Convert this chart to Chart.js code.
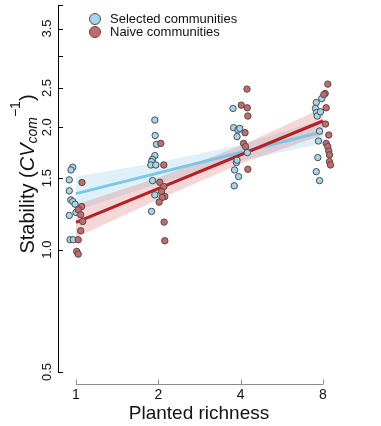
<!DOCTYPE html>
<html>
<head>
<meta charset="utf-8">
<script src="https://cdn.jsdelivr.net/npm/chart.js@4.4.1/dist/chart.umd.min.js"></script>
<style>
  html, body { margin: 0; padding: 0; background: #fff; }
  #wrap { width: 381px; height: 426px; }
</style>
</head>
<body>
<div id="wrap"><canvas id="c" width="381" height="426"></canvas></div>
<script>
// Data.
const richness = [1, 2, 4, 8];
const richnessLabels = ['1', '2', '4', '8'];
const yTicks = [0.5, 1, 1.5, 2, 2.5, 3, 3.5, 4];
const yTickLabels = ['0.5', '1.0', '1.5', '2.0', '2.5', '', '3.5', ''];

const selectedX = [
  0.973, 0.959, 0.945, 0.945, 0.957, 0.973, 0.992, 1.0, 0.945, 0.951, 0.978,
  1.942, 1.948, 1.970, 1.942, 1.905, 1.889, 1.878, 1.958, 1.905, 1.942, 1.889,
  3.75, 3.77, 3.91, 3.97, 3.88, 3.86, 3.80, 3.93, 3.79, 3.88, 4.23,
  7.92, 7.56, 7.51, 7.58, 7.62, 7.83, 7.77, 7.70, 7.66, 7.56, 7.77,
];
const selectedY = [
  1.595, 1.571, 1.485, 1.396, 1.326, 1.314, 1.294, 1.235, 1.214, 1.058, 1.058,
  2.084, 1.910, 1.816, 1.704, 1.668, 1.647, 1.616, 1.616, 1.479, 1.364, 1.242,
  2.226, 1.996, 1.970, 1.988, 1.897, 1.638, 1.571, 1.513, 1.436, 1.660, 1.733,
  2.355, 2.302, 2.226, 2.176, 2.132, 2.184, 1.958, 1.851, 1.685, 1.556, 1.479,
];
const naiveX = [
  1.052, 1.049, 1.019, 1.040, 1.058, 1.040, 1.019, 1.006, 1.019,
  2.042, 2.095, 2.025, 2.095, 2.055, 2.112, 2.065, 2.014, 2.100, 2.112,
  4.22, 4.02, 4.23, 4.25, 4.15, 4.10, 4.17, 4.25,
  8.33, 8.15, 8.06, 8.22, 8.17, 8.40, 8.22, 8.33, 8.40, 8.45, 8.45, 8.52,
];
const naiveY = [
  1.463, 1.277, 1.254, 1.219, 1.173, 1.113, 1.058, 0.990, 0.975,
  1.826, 1.616, 1.465, 1.430, 1.390, 1.351, 1.344, 1.309, 1.169, 1.052,
  2.484, 2.268, 2.234, 2.132, 1.940, 1.826, 1.793, 1.577,
  2.555, 2.423, 2.408, 2.234, 2.038, 1.915, 1.826, 1.793, 1.749, 1.711, 1.647, 1.616,
];

// Fitted lines (ends at richness 1 and 8) and confidence bands (at 1, 2, 4, 8).
const fitX = [1, 8];
const selectedFit = [1.374, 1.951];
const naiveFit = [1.167, 2.073];
const selectedUpper = [1.513, 1.638, 1.813, 2.088];
const selectedLower = [1.249, 1.454, 1.656, 1.824];
const naiveUpper = [1.292, 1.504, 1.802, 2.234];
const naiveLower = [1.072, 1.329, 1.628, 1.918];

const FONT = '"Liberation Sans", Arial, Helvetica, sans-serif';
const BLUE_FILL = '#a3d5ec';
const RED_FILL = '#c96868';
const POINT_EDGE = '#4d4d4d';

const xy = (xs, ys) => xs.map((x, i) => ({x, y: ys[i]}));

function band(upper, lower, color, order) {
  return [
    {
      type: 'line', data: xy(richness, upper), borderWidth: 0, pointRadius: 0,
      fill: '+1', backgroundColor: color, order,
    },
    {
      type: 'line', data: xy(richness, lower), borderWidth: 0, pointRadius: 0,
      fill: false, order,
    },
  ];
}

const axesPlugin = {
  id: 'axes',
  beforeDatasetsDraw(chart) {
    const {ctx, scales: {x, y}} = chart;
    ctx.save();
    // y axis, black, ticks pointing in
    const ax = chart.chartArea.left;
    ctx.strokeStyle = '#000';
    ctx.lineWidth = 1;
    ctx.beginPath();
    ctx.moveTo(ax + 0.5, y.getPixelForValue(4));
    ctx.lineTo(ax + 0.5, y.getPixelForValue(0.5));
    yTicks.forEach((v) => {
      const py = Math.round(y.getPixelForValue(v)) + 0.5;
      ctx.moveTo(ax, py);
      ctx.lineTo(ax + 5, py);
    });
    ctx.stroke();
    ctx.fillStyle = '#111';
    ctx.font = '13px ' + FONT;
    ctx.textAlign = 'center';
    ctx.textBaseline = 'middle';
    yTicks.forEach((v, i) => {
      if (!yTickLabels[i]) return;
      ctx.save();
      ctx.translate(47, y.getPixelForValue(v));
      ctx.rotate(-Math.PI / 2);
      ctx.fillText(yTickLabels[i], 0, 0);
      ctx.restore();
    });
    // x axis, grey, detached, ticks pointing up
    const ay = 384.5;
    ctx.strokeStyle = '#8c8c8c';
    ctx.beginPath();
    ctx.moveTo(x.getPixelForValue(1), ay);
    ctx.lineTo(x.getPixelForValue(8), ay);
    richness.forEach((v) => {
      const px = Math.round(x.getPixelForValue(v)) + 0.5;
      ctx.moveTo(px, ay);
      ctx.lineTo(px, ay - 5);
    });
    ctx.stroke();
    ctx.fillStyle = '#111';
    ctx.font = '14px ' + FONT;
    richness.forEach((v, i) => {
      ctx.fillText(richnessLabels[i], x.getPixelForValue(v), 395);
    });
    ctx.font = '19px ' + FONT;
    ctx.fillText('Planted richness', 199, 414);
    // y title with sub/superscripts
    ctx.save();
    ctx.translate(28, 174);
    ctx.rotate(-Math.PI / 2);
    const parts = [
      {t: 'Stability (', f: '20px ' + FONT, dy: 0},
      {t: 'CV', f: 'italic 20px ' + FONT, dy: 0},
      {t: 'com', f: 'italic 14px ' + FONT, dy: 5},
      {t: '\u22121', f: '14px ' + FONT, dy: -12},
      {t: ')', f: '20px ' + FONT, dy: 0},
    ];
    let total = 0;
    parts.forEach((p) => { ctx.font = p.f; p.w = ctx.measureText(p.t).width; total += p.w; });
    let cx = -total / 2;
    ctx.textAlign = 'left';
    parts.forEach((p) => {
      ctx.font = p.f;
      ctx.fillText(p.t, cx, p.dy);
      cx += p.w;
    });
    ctx.restore();
    ctx.restore();
  },
  afterDraw(chart) {
    const {ctx} = chart;
    ctx.save();
    const items = [['Selected communities', BLUE_FILL, 19], ['Naive communities', RED_FILL, 32]];
    ctx.font = '13px ' + FONT;
    ctx.textBaseline = 'middle';
    ctx.textAlign = 'left';
    items.forEach(([label, fill, py]) => {
      ctx.beginPath();
      ctx.arc(95, py, 5.5, 0, Math.PI * 2);
      ctx.fillStyle = fill;
      ctx.fill();
      ctx.strokeStyle = POINT_EDGE;
      ctx.lineWidth = 1;
      ctx.stroke();
      ctx.fillStyle = '#111';
      ctx.fillText(label, 110, py + 0.5);
    });
    ctx.restore();
  },
};

const pointStyle = (fill) => ({
  pointRadius: 3.2, pointBackgroundColor: fill, backgroundColor: fill,
  pointBorderColor: POINT_EDGE, borderColor: POINT_EDGE, pointBorderWidth: 1,
});

new Chart(document.getElementById('c'), {
  type: 'scatter',
  data: {
    datasets: [
      {label: 'Naive communities', data: xy(naiveX, naiveY), order: 0, ...pointStyle(RED_FILL)},
      {label: 'Selected communities', data: xy(selectedX, selectedY), order: 1, ...pointStyle(BLUE_FILL)},
      {type: 'line', data: xy(fitX, naiveFit), borderColor: '#b81f22', borderWidth: 3, pointRadius: 0, fill: false, order: 2},
      {type: 'line', data: xy(fitX, selectedFit), borderColor: '#7ec6e6', borderWidth: 3, pointRadius: 0, fill: false, order: 3},
      ...band(naiveUpper, naiveLower, 'rgba(214, 110, 110, 0.28)', 4),
      ...band(selectedUpper, selectedLower, 'rgba(140, 200, 232, 0.28)', 5),
    ],
  },
  options: {
    responsive: false,
    animation: false,
    layout: {padding: {left: 58, top: 4, right: 36, bottom: 54}},
    scales: {
      x: {type: 'logarithmic', min: 0.8594, max: 9.63, display: false},
      y: {type: 'logarithmic', min: 0.5, max: 4, display: false},
    },
    plugins: {legend: {display: false}, tooltip: {enabled: false}},
  },
  plugins: [axesPlugin],
});
</script>
</body>
</html>
